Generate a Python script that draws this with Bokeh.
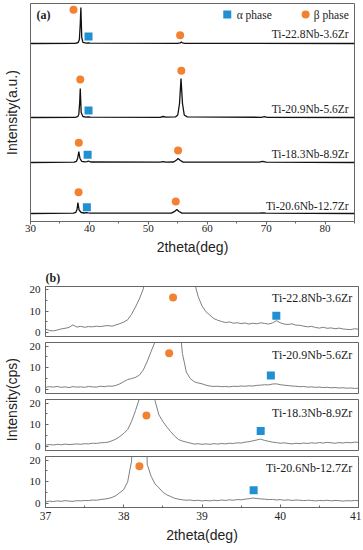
from math import pi
from bokeh.plotting import figure
from bokeh.layouts import column, row
from bokeh.models import Label, SingleIntervalTicker, FixedTicker
from bokeh.embed import file_html
from bokeh.resources import INLINE

SERIF = "Liberation Serif"
SANS = "Liberation Sans"
ORANGE = "#F28232"
BLUE = "#2190D3"
FRAME = "#666666"
TXT = "#222222"

# ---------------- data: panel (a) ----------------
SAMPLES = ["Ti-22.8Nb-3.6Zr", "Ti-20.9Nb-5.6Zr", "Ti-18.3Nb-8.9Zr", "Ti-20.6Nb-12.7Zr"]
A_OFFSETS = [178, 104, 59, 8]
A_LABEL_Y = [188, 113, 67.7, 15.3]

A1_X = [30, 37.6, 38.1, 38.3, 38.45, 38.55, 38.7, 38.9, 39.5, 39.8, 40.1, 55.0, 55.4, 55.6, 55.8, 56.2, 85]
A1_Y = [0, 0.2, 1.0, 4, 20, 36, 6, 1.2, 0.4, 0.5, 0.3, 0.2, 0.6, 1.6, 0.6, 0.2, 0]
A2_X = [30, 37.6, 38.0, 38.2, 38.35, 38.45, 38.6, 38.9, 39.4, 39.8, 40.2, 52.0, 52.5, 53.0, 54.6, 55.0,
        55.3, 55.55, 55.8, 56.1, 56.6, 69.2, 69.7, 70.2, 85]
A2_Y = [0, 0.2, 0.8, 3, 15, 29, 5, 1.0, 0.4, 0.6, 0.3, 0.2, 1.0, 0.3, 0.6, 2.5,
        14, 39, 14, 2.5, 0.6, 0.2, 0.8, 0.2, 0]
A3_X = [30, 37.4, 37.8, 38.0, 38.2, 38.4, 38.7, 39.2, 39.6, 39.85, 40.2, 52.0, 52.5, 53.0, 54.3, 54.8,
        55.05, 55.4, 55.9, 68.8, 69.4, 70.0, 85]
A3_Y = [0, 0.3, 1.2, 4, 11, 4, 1.2, 0.6, 0.8, 1.5, 0.5, 0.3, 0.9, 0.4, 0.5, 2.5,
        4, 2.2, 0.4, 0.3, 1.2, 0.3, 0]
A4_X = [30, 37.3, 37.7, 37.9, 38.05, 38.25, 38.6, 39.1, 39.5, 39.8, 40.2, 53.9, 54.5, 54.85, 55.2, 55.7,
        68.8, 69.4, 70.0, 85]
A4_Y = [0, 0.3, 1.2, 4, 11, 3.5, 1.0, 0.5, 0.8, 0.6, 0.4, 0.4, 2.2, 4, 2.0, 0.4,
        0.3, 0.6, 0.3, 0]

A_BETA_X = [37.3, 55.4, 38.45, 55.6, 38.2, 55.05, 38.16, 54.66]
A_BETA_Y = [211.7, 186.3, 142, 150.7, 78.7, 71, 29.3, 20]
A_ALPHA_X = [39.85, 39.85, 39.7, 39.57]
A_ALPHA_Y = [185, 111, 66.7, 14.3]

LEGEND_LABELS = ["α phase", "β phase"]

# ---------------- data: panel (b) ----------------
B_2THETA = [37.00, 37.05, 37.10, 37.15, 37.20, 37.25, 37.30, 37.35, 37.40, 37.45,
            37.50, 37.55, 37.60, 37.65, 37.70, 37.75, 37.80, 37.85, 37.90, 37.95,
            38.00, 38.05, 38.10, 38.15, 38.20, 38.25, 38.30, 38.35, 38.40, 38.45,
            38.50, 38.55, 38.60, 38.65, 38.70, 38.75, 38.80, 38.85, 38.90, 38.95,
            39.00, 39.05, 39.10, 39.15, 39.20, 39.25, 39.30, 39.35, 39.40, 39.45,
            39.50, 39.55, 39.60, 39.65, 39.70, 39.75, 39.80, 39.85, 39.90, 39.95,
            40.00, 40.05, 40.10, 40.15, 40.20, 40.25, 40.30, 40.35, 40.40, 40.45,
            40.50, 40.55, 40.60, 40.65, 40.70, 40.75, 40.80, 40.85, 40.90, 40.95,
            41.00]
B1_CPS = [1.6, 1.0, 0.8, 1.2, 1.7, 2.0, 2.4, 3.6, 2.6, 2.9,
          2.5, 2.8, 2.7, 3.0, 2.8, 3.1, 3.3, 3.0, 3.6, 4.2,
          4.9, 6.0, 8.6, 12.0, 15.8, 20.5, 32, 55, 90, 150,
          220, 260, 250, 200, 140, 90, 55, 33, 24, 17,
          12.5, 9.8, 8.2, 6.6, 5.8, 5.2, 4.7, 5.0, 4.4, 4.6,
          4.2, 4.5, 4.0, 4.4, 4.1, 4.6, 4.3, 4.0, 4.5, 5.6,
          4.6, 4.0, 3.8, 4.1, 3.5, 3.4, 3.0, 2.7, 2.9, 2.4,
          2.1, 2.5, 2.0, 2.2, 1.8, 2.1, 1.7, 1.5, 1.4, 1.8,
          1.6]
B2_CPS = [1.0, 1.3, 1.1, 1.4, 1.0, 1.2, 0.9, 1.3, 1.1, 1.2,
          1.0, 1.4, 1.2, 1.1, 1.5, 1.3, 1.6, 1.5, 1.9, 2.6,
          3.6, 4.6, 5.0, 5.6, 6.6, 9.0, 12.9, 17.5, 22, 40,
          90, 180, 220, 120, 35, 16.5, 8.0, 5.0, 3.6, 3.0,
          2.6, 2.0, 1.6, 1.4, 1.5, 1.3, 1.4, 1.2, 1.5, 1.4,
          1.6, 1.5, 1.7, 1.6, 1.9, 2.0, 2.2, 2.1, 2.5, 2.6,
          2.2, 2.0, 1.8, 1.6, 1.5, 1.3, 1.4, 1.1, 1.2, 1.0,
          1.1, 0.9, 1.0, 0.8, 0.9, 0.7, 0.8, 0.6, 0.7, 0.5,
          0.6]
B3_CPS = [0.6, 0.9, 0.7, 1.0, 0.8, 1.1, 0.9, 1.0, 1.2, 1.0,
          1.3, 1.2, 1.5, 1.4, 1.7, 1.8, 2.0, 2.6, 3.4, 4.6,
          6.0, 7.8, 11.5, 16.5, 22, 60, 150, 90, 21, 14.5,
          11.5, 9.0, 6.8, 4.8, 3.2, 2.5, 2.0, 1.6, 1.1, 1.3,
          1.0, 1.2, 1.0, 1.3, 1.1, 1.4, 1.2, 1.5, 1.4, 1.7,
          1.6, 2.0, 2.2, 2.6, 3.0, 3.4, 2.8, 2.4, 2.0, 1.8,
          1.5, 1.7, 1.4, 1.2, 1.5, 1.3, 1.6, 1.4, 1.7, 1.5,
          1.8, 1.6, 1.9, 1.7, 1.5, 1.8, 1.6, 1.9, 1.7, 2.0,
          1.9]
B4_CPS = [0.7, 1.1, 0.9, 1.2, 1.0, 1.3, 1.1, 1.0, 1.3, 1.2,
          1.4, 1.3, 1.6, 1.5, 1.8, 2.0, 2.3, 2.8, 3.6, 5.0,
          6.4, 10.0, 19.5, 80, 200, 90, 18.0, 12.5, 9.0, 7.2,
          5.2, 4.0, 3.2, 2.4, 2.0, 1.7, 1.5, 1.6, 1.3, 1.5,
          1.2, 1.4, 1.2, 1.5, 1.3, 1.6, 1.4, 1.7, 1.5, 1.8,
          1.7, 2.0, 2.2, 2.5, 2.3, 2.1, 2.0, 1.8, 1.9, 1.6,
          1.8, 1.5, 1.7, 1.4, 1.6, 1.5, 1.3, 1.5, 1.4, 1.2,
          1.4, 1.3, 1.5, 1.2, 1.4, 1.3, 1.1, 1.3, 1.2, 1.4,
          1.3]
B_BETA_X = [38.63, 38.58, 38.29, 38.2]
B_BETA_Y = [16.4, 16.7, 14.2, 17.1]
B_ALPHA_X = [39.95, 39.88, 39.75, 39.66]
B_ALPHA_Y = [7.9, 6.4, 7.1, 6.1]
B_LABEL_Y = [16.4, 15.7, 15.5, 16.4]

# ---------------- panel (a) ----------------
pa = figure(width=360, height=266, x_range=(30, 85), y_range=(0, 218),
            output_backend="svg", toolbar_location=None,
            min_border_left=30, min_border_right=6, min_border_top=3, min_border_bottom=45)
pa.grid.visible = False
pa.outline_line_color = FRAME

for xs, ys, off in zip([A1_X, A2_X, A3_X, A4_X], [A1_Y, A2_Y, A3_Y, A4_Y], A_OFFSETS):
    pa.line(xs, [y + off for y in ys], line_color="#111111", line_width=1.3)

pa.scatter(A_ALPHA_X, A_ALPHA_Y, marker="square", size=8, fill_color=BLUE, line_color=None)
pa.scatter(A_BETA_X, A_BETA_Y, marker="circle", size=8, fill_color=ORANGE, line_color=None)

for name, ly in zip(SAMPLES, A_LABEL_Y):
    pa.add_layout(Label(x=84.0, y=ly, text=name, text_align="right", text_baseline="middle",
                        text_font=SERIF, text_font_size="11.5px", text_color=TXT))
pa.add_layout(Label(x=31.0, y=207, text="(a)", text_align="left", text_baseline="middle",
                    text_font=SERIF, text_font_size="12px", text_font_style="bold", text_color=TXT))

# legend keys (drawn by hand, top right of panel a)
pa.scatter([63.4], [207], marker="square", size=8, fill_color=BLUE, line_color=None)
pa.scatter([76.7], [207], marker="circle", size=8, fill_color=ORANGE, line_color=None)
pa.add_layout(Label(x=65.0, y=207, text=LEGEND_LABELS[0], text_align="left", text_baseline="middle",
                    text_font=SERIF, text_font_size="11.5px", text_color=TXT))
pa.add_layout(Label(x=78.1, y=207, text=LEGEND_LABELS[1], text_align="left", text_baseline="middle",
                    text_font=SERIF, text_font_size="11.5px", text_color=TXT))

xa = pa.xaxis[0]
xa.ticker = SingleIntervalTicker(interval=10, num_minor_ticks=2)
xa.axis_label = "2theta(deg)"
xa.axis_label_text_font = SANS
xa.axis_label_text_font_size = "14px"
xa.axis_label_text_font_style = "normal"
xa.axis_label_text_color = TXT
xa.axis_label_standoff = 4
xa.major_label_text_font = SERIF
xa.major_label_text_font_size = "11px"
xa.major_label_text_color = TXT
xa.major_label_standoff = 0
xa.major_tick_out = 3
xa.major_tick_in = 0
xa.minor_tick_out = 2
xa.minor_tick_in = 0
xa.axis_line_color = FRAME
xa.major_tick_line_color = FRAME
xa.minor_tick_line_color = FRAME

ya = pa.yaxis[0]
ya.ticker = FixedTicker(ticks=[])
ya.axis_label = "Intensity(a.u.)"
ya.axis_label_text_font = SANS
ya.axis_label_text_font_size = "14px"
ya.axis_label_text_font_style = "normal"
ya.axis_label_text_color = TXT
ya.axis_label_standoff = 11
ya.major_label_standoff = 0
ya.major_tick_out = 0
ya.minor_tick_out = 0
ya.axis_line_color = FRAME

# ---------------- panel (b) ----------------
B_FRAME_H = 51
tops = [19, 3, 3, 3]
bottoms = [3, 3, 3, 41]
B_SERIES = [B1_CPS, B2_CPS, B3_CPS, B4_CPS]

bfigs = []
for i in range(4):
    last = i == 3
    p = figure(width=337, height=tops[i] + B_FRAME_H + bottoms[i], x_range=(37, 41), y_range=(-1.84, 21.61),
               output_backend="svg", toolbar_location=None,
               x_axis_location="below" if last else None,
               min_border_left=21, min_border_right=3, min_border_top=tops[i], min_border_bottom=bottoms[i])
    p.grid.visible = False
    p.outline_line_color = FRAME
    yb = p.yaxis[0]
    yb.ticker = SingleIntervalTicker(interval=10, num_minor_ticks=2)
    yb.major_tick_in = 3
    yb.major_tick_out = 0
    yb.minor_tick_in = 2
    yb.minor_tick_out = 0
    yb.axis_line_color = FRAME
    yb.major_tick_line_color = FRAME
    yb.minor_tick_line_color = FRAME
    yb.major_label_text_font = SERIF
    yb.major_label_text_font_size = "11px"
    yb.major_label_text_color = TXT
    yb.major_label_standoff = 5
    if last:
        xb = p.xaxis[0]
        xb.ticker = SingleIntervalTicker(interval=1, num_minor_ticks=2)
        xb.major_tick_in = 3
        xb.major_tick_out = 0
        xb.minor_tick_in = 2
        xb.minor_tick_out = 0
        xb.axis_line_color = FRAME
        xb.major_tick_line_color = FRAME
        xb.minor_tick_line_color = FRAME
        xb.major_label_text_font = SERIF
        xb.major_label_text_font_size = "11.5px"
        xb.major_label_text_color = TXT
        xb.major_label_standoff = 4
        xb.axis_label = "2theta(deg)"
        xb.axis_label_text_font = SANS
        xb.axis_label_text_font_size = "14px"
        xb.axis_label_text_font_style = "normal"
        xb.axis_label_text_color = TXT
        xb.axis_label_standoff = 4

    p.line(B_2THETA, B_SERIES[i], line_color="#707070", line_width=0.9)
    p.scatter([B_BETA_X[i]], [B_BETA_Y[i]], marker="circle", size=8, fill_color=ORANGE, line_color=None)
    p.scatter([B_ALPHA_X[i]], [B_ALPHA_Y[i]], marker="square", size=8, fill_color=BLUE, line_color=None)
    p.add_layout(Label(x=40.92, y=B_LABEL_Y[i], text=SAMPLES[i], text_align="right", text_baseline="middle",
                       text_font=SERIF, text_font_size="12px", text_color=TXT))
    bfigs.append(p)

t = bfigs[0].title
t.text = "(b)"
t.align = "left"
t.text_font = SERIF
t.text_font_size = "12px"
t.text_font_style = "bold"
t.text_color = TXT
t.offset = 0
t.standoff = 4

total_b = sum(tt + B_FRAME_H + bb for tt, bb in zip(tops, bottoms))
lab = figure(width=24, height=total_b, x_range=(0, 1), y_range=(0, 1), output_backend="svg",
             toolbar_location=None, min_border=0, x_axis_location=None, y_axis_location=None)
lab.outline_line_color = None
lab.grid.visible = False
lab.add_layout(Label(x=0.48, y=0.528, text="Intensity(cps)", angle=pi / 2, text_align="center",
                     text_baseline="middle", text_font=SANS, text_font_size="14px", text_color=TXT))

layout = column(pa, row(lab, column(*bfigs, spacing=0), spacing=0), spacing=0)

open("out.html", "w").write(file_html(layout, INLINE))
